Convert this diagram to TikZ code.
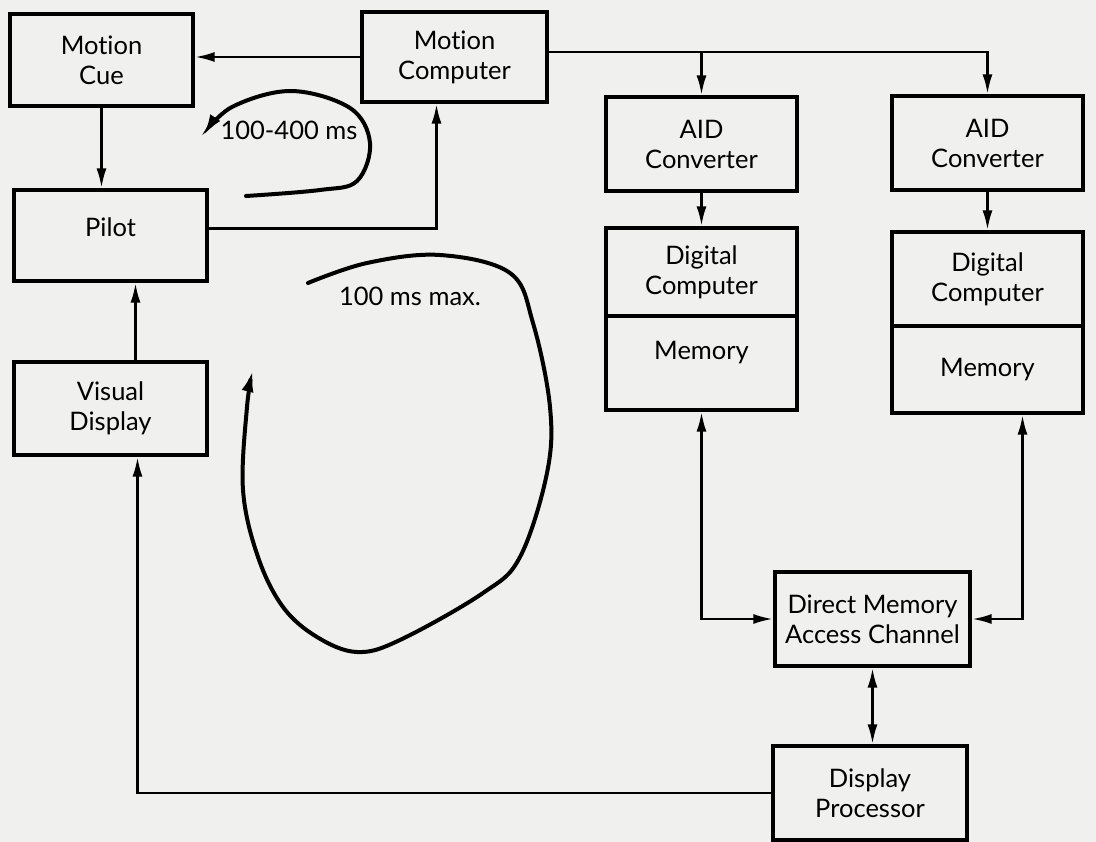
\documentclass[tikz,border=0pt]{standalone}
\usepackage{fontspec}
\setmainfont{Lato}[Ligatures={NoCommon}]
\usetikzlibrary{arrows.meta,calc}
\definecolor{paper}{RGB}{240,240,238}
\begin{document}
\begin{tikzpicture}[x=1pt,y=-1pt,
  box/.style={draw, line width=3.2pt, inner sep=0pt, align=center,
    font=\fontsize{25.5}{30}\selectfont},
  lbl/.style={inner sep=0pt, font=\fontsize{25.5}{30}\selectfont},
  conn/.style={line width=2.8pt},
  tip/.tip={Latex[length=20pt,width=10pt]},
  arr/.style={conn, -tip},
  darr/.style={conn, tip-tip},
  loop/.style={line width=4pt, line cap=round, -{Latex[length=22pt,width=12pt]}}]
\useasboundingbox[fill=paper] (0,0) rectangle (1096,842);

\node[box, minimum width=183pt, minimum height=92pt] (mcue) at (101.5,60) {Motion\\Cue};
\node[box, minimum width=185pt, minimum height=90pt] (mcomp) at (454.5,57) {Motion\\Computer};
\node[box, minimum width=191pt, minimum height=94pt] (aid1) at (701.5,144) {AID\\Converter};
\node[box, minimum width=191pt, minimum height=94pt] (aid2) at (987.5,143) {AID\\Converter};
\node[box, minimum width=191pt, minimum height=88pt] (dc1) at (701.5,272) {Digital\\Computer};
\node[box, minimum width=191pt, minimum height=94pt, text depth=26pt] (mem1) at (701.5,363) {Memory};
\node[box, minimum width=191pt, minimum height=94pt] (dc2) at (987.5,279) {Digital\\Computer};
\node[box, minimum width=191pt, minimum height=87pt] (mem2) at (987.5,369.5) {Memory};
\node[box, minimum width=193pt, minimum height=91pt, text depth=16pt] (pilot) at (110.5,235.5) {Pilot};
\node[box, minimum width=193pt, minimum height=93pt] (vis) at (110.5,408.5) {Visual\\Display};
\node[box, minimum width=195pt, minimum height=94pt] (dma) at (872.5,619) {Direct Memory\\Access Channel};
\node[box, minimum width=194pt, minimum height=94pt] (dp) at (870,793) {Display\\Processor};

% connectors
\draw[arr] (mcomp.west) -- (mcomp.west -| mcue.east);
\coordinate (busL) at ([yshift=5pt]mcomp.east);
\draw[arr] (busL) -- (busL -| aid2.north) -- (aid2.north);
\draw[arr] (busL -| aid1.north) -- (aid1.north);
\draw[arr] (aid1.south) -- (dc1.north);
\draw[arr] (aid2.south) -- (dc2.north);
\draw[darr] (mem1.south) -- (mem1.south |- dma.west) -- (dma.west);
\coordinate (m2b) at ([xshift=35pt]mem2.south);
\draw[darr] (m2b) -- (m2b |- dma.east) -- (dma.east);
\draw[darr] (dma.south) -- (dma.south |- dp.north);
\coordinate (vb) at ([xshift=27pt]vis.south);
\draw[arr] (dp.west) -- (dp.west -| vb) -- (vb);
\coordinate (pb) at ([xshift=25pt]pilot.south);
\draw[arr] (vis.north -| pb) -- (pb);
\draw[arr] (mcue.south) -- (mcue.south |- pilot.north);
\coordinate (mb) at ([xshift=-18pt]mcomp.south);
\coordinate (pe) at ([yshift=7pt]pilot.east);
\draw[arr] (pe) -- (pe -| mb) -- (mb);

% hand-drawn loops
\node[lbl] (l1) at (289,130) {100-400 ms};
\node[lbl] (l2) at (410,296) {100 ms max.};
\draw[loop] plot[smooth, tension=0.6] coordinates {(246,196) (320,190) (357,181) (370,143) (350,108) (291,91) (232,107) (203,136)};
\draw[loop] plot[smooth, tension=0.6] coordinates {(308,283) (367,263) (440,255) (510,273) (533,323) (550,407) (547,473) (520,557) (483,593) (400,640) (357,652) (317,637) (283,607) (258,557) (243,490) (247,407) (253,370)};
\end{tikzpicture}
\end{document}
